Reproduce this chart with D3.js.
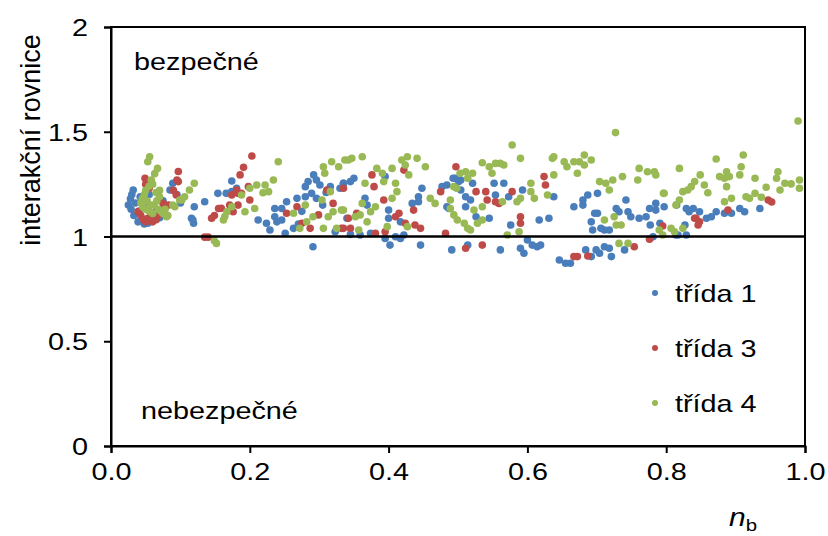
<!DOCTYPE html>
<html>
<head>
<meta charset="utf-8">
<script src="https://cdn.jsdelivr.net/npm/d3@7"></script>
<style>
  html, body { margin: 0; padding: 0; background: #fff; }
  svg { display: block; }
  text { font-family: "Liberation Sans", Arial, Helvetica, sans-serif; fill: #000; }
</style>
</head>
<body>
<svg id="chart" width="828" height="536"></svg>
<script>
// Series: třída 1 (blue), třída 3 (red), třída 4 (green); each point is [n_b, interakční rovnice]
const trida1 = [
  [0.025,1.15],[0.028,1.18],[0.03,1.2],[0.032,1.222],[0.029,1.13],[0.033,1.1],[0.035,1.16],[0.039,1.07],
  [0.04,1.12],[0.042,1.19],[0.045,1.08],[0.048,1.06],[0.05,1.14],[0.053,1.063],[0.055,1.2],[0.058,1.1],
  [0.06,1.08],[0.065,1.12],[0.07,1.09],[0.075,1.17],[0.085,1.222],[0.089,1.254],[0.095,1.2],[0.1,1.16],
  [0.12,1.142],[0.135,1.166],[0.118,1.079],[0.116,1.087],[0.119,1.063],[0.154,1.206],[0.166,1.206],
  [0.174,1.265],[0.181,1.23],[0.174,1.214],
  [0.212,1.079],[0.224,1.063],[0.236,1.134],[0.246,1.134],[0.236,1.094],[0.229,1.031],[0.239,1.07],
  [0.253,1.166],[0.268,1.182],[0.251,1.015],[0.263,1.039],[0.292,1.294],[0.284,1.262],[0.296,1.27],
  [0.28,1.238],[0.301,1.246],[0.289,1.206],[0.28,1.19],[0.296,1.182],[0.316,1.238],[0.33,1.23],
  [0.335,1.254],[0.291,0.951],[0.323,1.023],[0.246,1.079],[0.275,1.12],[0.31,1.21],[0.305,1.15],
  [0.27,1.06],[0.345,1.01],
  [0.35,1.278],[0.345,1.262],[0.335,1.254],[0.395,1.286],[0.448,1.23],[0.443,1.19],[0.443,1.166],
  [0.434,1.158],[0.366,1.182],[0.369,1.15],[0.4,1.126],[0.4,1.087],[0.417,1.07],[0.34,1.087],
  [0.359,1.007],[0.374,1.015],[0.395,0.991],[0.402,0.959],[0.41,0.999],[0.417,0.991],[0.422,1.007],
  [0.446,0.959],[0.477,1.238],[0.484,1.246],[0.496,1.278],[0.501,1.262],[0.487,1.134],[0.491,0.936],
  [0.484,1.142],[0.493,1.278],
  [0.504,1.27],[0.521,1.254],[0.552,1.254],[0.566,1.254],[0.504,1.222],[0.511,1.19],[0.518,1.174],
  [0.554,1.198],[0.573,1.19],[0.593,1.222],[0.638,1.19],[0.667,1.142],[0.511,1.142],[0.526,1.094],
  [0.545,1.087],[0.576,1.055],[0.617,1.079],[0.631,1.087],[0.6,0.983],[0.607,0.959],[0.614,0.951],
  [0.619,0.959],[0.59,0.944],[0.595,0.92],[0.561,0.936],[0.514,0.959],[0.646,0.888],[0.655,0.872],
  [0.662,0.872],
  [0.68,1.174],[0.687,1.198],[0.701,1.206],[0.68,1.15],[0.697,1.111],[0.701,1.111],[0.692,1.07],
  [0.694,1.031],[0.706,1.039],[0.711,1.031],[0.718,1.031],[0.728,1.134],[0.732,1.118],[0.742,1.174],
  [0.745,1.118],[0.749,1.094],[0.761,1.087],[0.771,1.094],[0.776,1.134],[0.785,1.158],[0.785,1.126],
  [0.797,1.142],[0.781,0.999],[0.814,1.007],[0.829,1.007],[0.829,1.134],[0.833,1.118],[0.684,0.936],
  [0.699,0.936],[0.704,0.92],[0.711,0.951],[0.718,0.944],[0.721,0.904],[0.74,0.936],[0.692,0.904],
  [0.777,1.055],[0.791,1.063],[0.827,1.055],[0.817,1.007],[0.815,1.15],
  [0.839,1.134],[0.848,1.118],[0.858,1.087],[0.865,1.094],[0.872,1.118],[0.884,1.111],[0.894,1.111],
  [0.906,1.134],[0.913,1.118],[0.935,1.134]
];

const trida3 = [
  [0.04,1.12],[0.043,1.1],[0.047,1.08],[0.05,1.07],[0.055,1.085],[0.06,1.07],[0.065,1.08],[0.049,1.278],
  [0.05,1.25],[0.055,1.23],[0.075,1.158],[0.072,1.118],[0.078,1.14],[0.094,1.198],[0.097,1.31],
  [0.095,1.27],[0.097,1.262],[0.09,1.22],[0.083,1.15],[0.068,1.1],[0.039,1.118],[0.053,1.087],
  [0.149,1.1],[0.145,1.087],[0.159,1.135],[0.135,0.997],[0.14,0.997],[0.155,1.134],
  [0.203,1.384],[0.191,1.33],[0.186,1.294],[0.198,1.238],[0.183,1.206],[0.2,1.174],[0.183,1.15],
  [0.171,1.15],[0.176,1.118],[0.174,1.198],[0.188,1.206],[0.181,1.222],[0.253,1.111],[0.268,1.142],
  [0.275,1.063],[0.287,1.039],[0.299,1.103],[0.311,1.222],[0.32,1.158],[0.332,1.039],
  [0.376,1.294],[0.379,1.238],[0.335,1.23],[0.393,1.174],[0.422,1.317],[0.436,1.126],[0.342,1.087],
  [0.354,1.111],[0.41,1.094],[0.415,1.111],[0.424,1.063],[0.438,1.055],[0.446,1.039],[0.335,1.039],
  [0.345,1.039],[0.395,1.023],[0.381,1.015],[0.475,1.214],[0.482,1.015],[0.497,1.333],
  [0.624,1.286],[0.626,1.246],[0.526,1.214],[0.54,1.214],[0.542,1.174],[0.554,1.166],[0.559,1.158],
  [0.578,1.214],[0.59,1.094],[0.59,1.063],[0.511,0.944],[0.535,0.959],[0.667,0.904],
  [0.754,0.951],[0.776,0.987],[0.795,1.05],[0.672,0.904],[0.687,0.907],[0.841,1.087],
  [0.947,1.174],[0.889,1.126],[0.843,1.087],[0.848,1.07],[0.846,1.055],[0.952,1.165]
];

const trida4 = [
  [0.0557,1.381],[0.053,1.357],[0.067,1.325],[0.063,1.3],[0.058,1.27],[0.06,1.25],[0.055,1.24],
  [0.05,1.22],[0.048,1.2],[0.045,1.18],[0.043,1.16],[0.046,1.14],[0.05,1.13],[0.055,1.12],[0.06,1.11],
  [0.062,1.15],[0.066,1.17],[0.07,1.19],[0.065,1.21],[0.07,1.22],[0.052,1.17],[0.057,1.15],[0.068,1.13],
  [0.072,1.12],[0.078,1.13],[0.082,1.1],[0.089,1.15],[0.099,1.174],[0.106,1.19],[0.113,1.222],
  [0.12,1.254],[0.092,1.142],[0.102,1.174],[0.08,1.094],[0.075,1.11],
  [0.164,1.095],[0.149,0.98],[0.152,0.967],[0.162,1.079],[0.167,1.118],
  [0.241,1.357],[0.234,1.27],[0.222,1.246],[0.21,1.246],[0.2,1.23],[0.219,1.209],[0.188,1.198],
  [0.174,1.142],[0.193,1.118],[0.207,1.134],[0.227,1.214],[0.306,1.333],[0.308,1.302],[0.318,1.357],
  [0.328,1.333],[0.337,1.365],[0.316,1.214],[0.304,1.174],[0.28,1.15],[0.32,1.118],[0.332,1.126],
  [0.313,1.094],[0.263,1.111],[0.282,1.07],[0.272,1.039],[0.306,1.039],[0.325,1.039],[0.291,1.094],
  [0.342,1.365],[0.347,1.373],[0.362,1.381],[0.383,1.325],[0.391,1.302],[0.405,1.325],[0.419,1.365],
  [0.427,1.381],[0.424,1.341],[0.429,1.294],[0.441,1.373],[0.453,1.333],[0.366,1.254],[0.393,1.262],
  [0.41,1.254],[0.412,1.214],[0.405,1.182],[0.362,1.158],[0.381,1.142],[0.374,1.118],[0.359,1.103],
  [0.352,1.094],[0.335,1.126],[0.369,1.07],[0.357,1.031],[0.398,1.047],[0.427,1.047],[0.46,1.182],
  [0.467,1.158],[0.489,1.174],[0.489,1.134],[0.494,1.103],[0.499,1.079],[0.494,1.238],[0.503,1.302],
  [0.498,1.23],
  [0.578,1.437],[0.535,1.352],[0.545,1.333],[0.554,1.349],[0.561,1.349],[0.566,1.341],[0.549,1.302],
  [0.59,1.373],[0.511,1.309],[0.521,1.302],[0.514,1.278],[0.636,1.373],[0.638,1.381],[0.653,1.357],
  [0.657,1.333],[0.667,1.357],[0.638,1.294],[0.605,1.254],[0.605,1.214],[0.59,1.182],[0.585,1.166],
  [0.61,1.182],[0.629,1.198],[0.564,1.166],[0.523,1.126],[0.535,1.142],[0.509,1.063],[0.514,1.039],
  [0.518,1.031],[0.528,1.063],[0.535,1.079],[0.571,1.007],[0.588,1.023],
  [0.682,1.389],[0.675,1.357],[0.682,1.341],[0.692,1.365],[0.672,1.302],[0.704,1.262],[0.713,1.254],
  [0.723,1.27],[0.718,1.222],[0.737,1.286],[0.759,1.27],[0.761,1.325],[0.773,1.309],[0.783,1.309],
  [0.785,1.294],[0.819,1.325],[0.797,1.206],[0.824,1.214],[0.831,1.222],[0.836,1.238],[0.819,1.174],
  [0.814,1.15],[0.711,1.079],[0.725,1.094],[0.728,1.055],[0.735,1.055],[0.79,1.031],[0.795,1.007],
  [0.807,1.039],[0.812,1.023],[0.824,1.039],[0.732,0.967],[0.745,0.967],[0.727,1.496],
  [0.99,1.551],[0.872,1.37],[0.911,1.389],[0.908,1.333],[0.906,1.294],[0.887,1.309],[0.877,1.286],
  [0.884,1.278],[0.891,1.286],[0.887,1.238],[0.928,1.278],[0.961,1.309],[0.959,1.278],[0.971,1.254],
  [0.98,1.251],[0.992,1.27],[0.992,1.23],[0.964,1.222],[0.944,1.235],[0.928,1.206],[0.915,1.19],
  [0.92,1.182],[0.937,1.187],[0.894,1.182],[0.884,1.166],[0.841,1.262],[0.855,1.246],[0.86,1.209],
  [0.849,1.294],[0.796,1.206]
];

const seriesNames = ["třída 1", "třída 3", "třída 4"];
const seriesColors = ["#4a7ebb", "#be4b48", "#98b954"];
const xTicks = [0, 0.2, 0.4, 0.6, 0.8, 1.0];
const yTicks = [0, 0.5, 1, 1.5, 2];
const thresholdValue = 1;

const svg = d3.select("#chart");
const plot = { left: 111, right: 805, top: 27, bottom: 446 };
const FONT = 24;      // label font size
const SX = 1.2;       // horizontal widening of the label glyphs

const x = d3.scaleLinear().domain([0, 1]).range([plot.left, plot.right]);
const y = d3.scaleLinear().domain([0, 2]).range([plot.bottom, plot.top]);

// Text helper: places a horizontally widened label with its anchor at (px, py)
function label(parent, px, py, str, size, anchor) {
  return parent.append("text")
    .attr("transform", `translate(${px},${py}) scale(${SX},1)`)
    .attr("font-size", size)
    .attr("text-anchor", anchor || "start")
    .text(str);
}

// Data points, drawn in series order so the later classes lie on top
const allSeries = [trida1, trida3, trida4];
allSeries.forEach((pts, i) => {
  svg.append("g")
    .selectAll("circle")
    .data(pts)
    .join("circle")
    .attr("cx", d => x(d[0]))
    .attr("cy", d => y(d[1]))
    .attr("r", 3.8)
    .attr("fill", seriesColors[i]);
});

// Threshold line at 1
svg.append("line")
  .attr("x1", x(0)).attr("x2", x(1))
  .attr("y1", y(thresholdValue)).attr("y2", y(thresholdValue))
  .attr("stroke", "#000").attr("stroke-width", 2.5);

// Plot frame
svg.append("rect")
  .attr("x", plot.left).attr("y", plot.top)
  .attr("width", plot.right - plot.left).attr("height", plot.bottom - plot.top)
  .attr("fill", "none").attr("stroke", "#000").attr("stroke-width", 2);

// Axes
const xAxis = svg.append("g")
  .attr("transform", `translate(0,${plot.bottom})`)
  .call(d3.axisBottom(x).tickValues(xTicks).tickFormat(d3.format(".1f")).tickSize(7));
const yAxis = svg.append("g")
  .attr("transform", `translate(${plot.left},0)`)
  .call(d3.axisLeft(y).tickValues(yTicks).tickFormat(d => String(d)).tickSize(7));

[xAxis, yAxis].forEach(g => {
  g.select(".domain").attr("stroke", "#000").attr("stroke-width", 2);
  g.selectAll(".tick line").attr("stroke", "#000").attr("stroke-width", 2);
  g.selectAll(".tick text")
    .attr("font-family", '"Liberation Sans", Arial, sans-serif')
    .attr("font-size", FONT).attr("fill", "#000");
});
xAxis.selectAll(".tick text")
  .attr("x", 0).attr("y", 0).attr("dy", 0)
  .attr("transform", `translate(0,34) scale(${SX},1)`);
yAxis.selectAll(".tick text")
  .attr("x", 0).attr("dy", "0.36em")
  .attr("transform", `translate(-23,0) scale(${SX},1)`);

// Axis titles
svg.append("text")
  .attr("transform", "translate(40,140) rotate(-90)")
  .attr("text-anchor", "middle")
  .attr("font-size", 27)
  .text("interakční rovnice");

const xTitle = svg.append("text")
  .attr("transform", `translate(729,526) scale(${SX},1)`)
  .attr("font-size", 25);
xTitle.append("tspan").attr("font-style", "italic").text("n");
xTitle.append("tspan").attr("font-size", 17).attr("dy", 5).text("b");

// Region labels
label(svg, 134, 70, "bezpečné", FONT);
label(svg, 141, 419, "nebezpečné", FONT);

// Legend
const legend = svg.append("g");
const legendRows = [293, 348, 403];
seriesNames.forEach((name, i) => {
  legend.append("circle")
    .attr("cx", 655).attr("cy", legendRows[i]).attr("r", 3)
    .attr("fill", seriesColors[i]);
  label(legend, 675, legendRows[i] + 8.5, name, FONT);
});
</script>
</body>
</html>
